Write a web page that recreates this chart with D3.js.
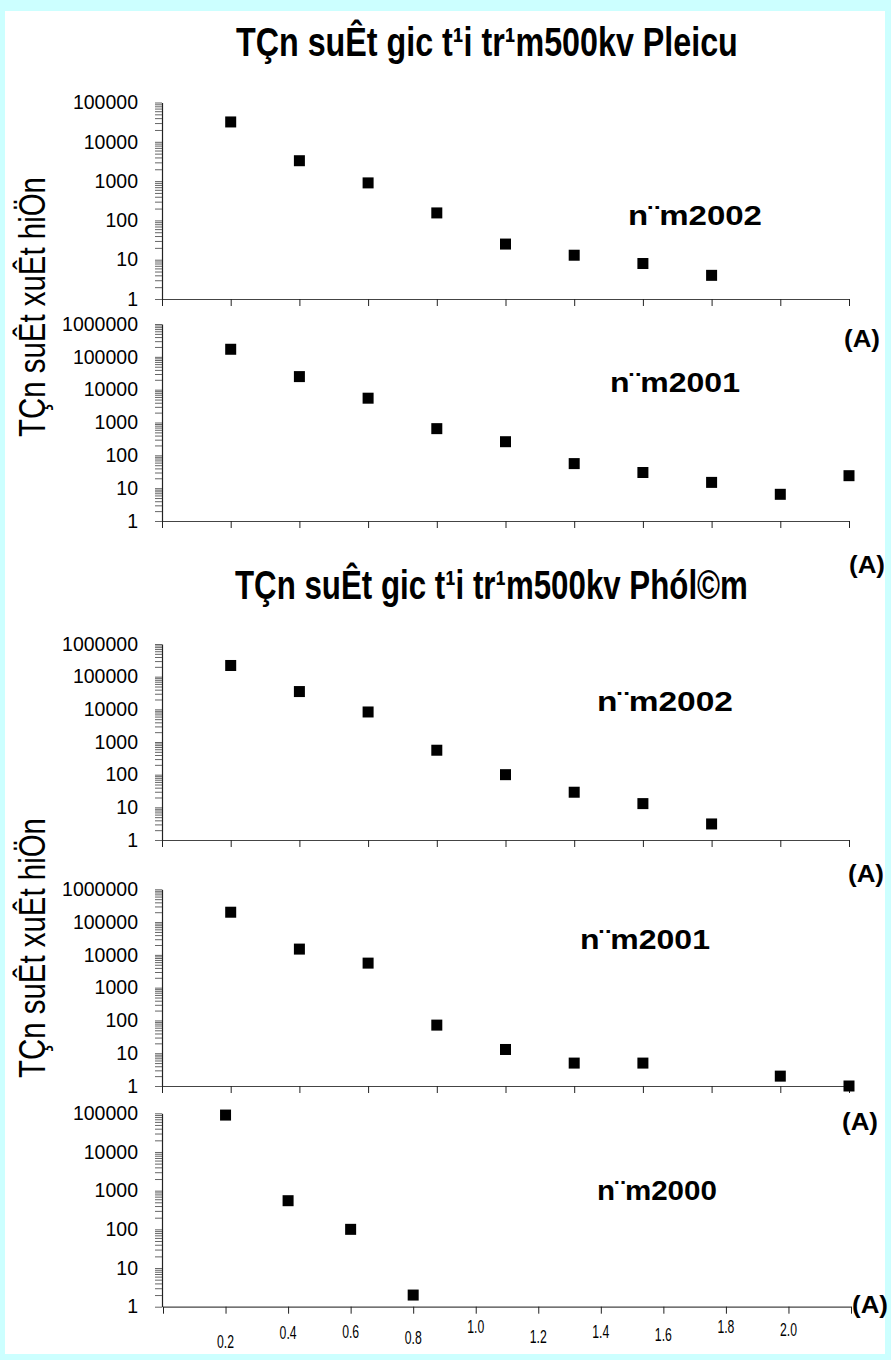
<!DOCTYPE html>
<html>
<head>
<meta charset="utf-8">
<script src="https://cdn.jsdelivr.net/npm/d3@7"></script>
<style>
  html, body { margin: 0; padding: 0; background: #ccffff; }
  svg { display: block; }
  text { font-family: "Liberation Sans", Arial, sans-serif; }
</style>
</head>
<body>
<svg id="chart" width="891" height="1360"></svg>
<script>
// Current levels (A) on the horizontal axis
const currents = [0.2, 0.4, 0.6, 0.8, 1.0, 1.2, 1.4, 1.6, 1.8, 2.0];

// Occurrence counts per current level
const pleicu2002 = [32000, 3300, 900, 155, 25, 13, 8, 4];
const pleicu2001 = [170000, 25000, 5500, 650, 260, 56, 30, 15, 6.5, 24];
const phulam2002 = [220000, 35000, 8300, 560, 100, 29, 13, 3.1];
const phulam2001 = [200000, 15000, 5600, 72, 13, 5, 5, null, 2, 1];
const phulam2000 = [90000, 550, 100, 2];

// Text
const titlePleicu = "TÇn suÊt gic t¹i tr¹m500kv Pleicu";
const titlePhulam = "TÇn suÊt gic t¹i tr¹m500kv Phól©m";
const yAxisTitle = "TÇn suÊt xuÊt hiÖn";
const unitLabel = "(A)";
const yearLabels = ["n¨m2002", "n¨m2001", "n¨m2002", "n¨m2001", "n¨m2000"];
const yTickLabels = ["1", "10", "100", "1000", "10000", "100000", "1000000"];
const xTickLabels = ["0.2", "0.4", "0.6", "0.8", "1.0", "1.2", "1.4", "1.6", "1.8", "2.0"];

const svg = d3.select("#chart");

// white sheet inside the cyan frame
svg.append("rect").attr("x", 5).attr("y", 11).attr("width", 880).attr("height", 1343).attr("fill", "#ffffff");

// draws a text condensed horizontally to a given width
function fitText(str, x, y, width, opts) {
  const o = Object.assign({ size: 20, weight: "normal", anchor: "start", rotate: 0 }, opts);
  const g = svg.append("g");
  const t = g.append("text")
    .attr("font-size", o.size)
    .attr("font-weight", o.weight)
    .attr("text-anchor", o.anchor)
    .attr("fill", "#000")
    .text(str);
  const w = t.node().getComputedTextLength();
  g.attr("transform", `translate(${x},${y}) rotate(${o.rotate}) scale(${width / w},1)`);
  return g;
}

// panel layout
const panels = [
  { values: pleicu2002, decades: 5, top: 102.5, bottom: 299, xMax: 2.0, x0: 162, x1: 849,
    year: yearLabels[0], yearX: 628, yearW: 134, yearY: 225, unitX: 862, unitY: 347 },
  { values: pleicu2001, decades: 6, top: 324, bottom: 521, xMax: 2.0, x0: 162, x1: 849,
    year: yearLabels[1], yearX: 610, yearW: 130, yearY: 392, unitX: 867, unitY: 573 },
  { values: phulam2002, decades: 6, top: 644, bottom: 840, xMax: 2.0, x0: 162, x1: 849,
    year: yearLabels[2], yearX: 597, yearW: 136, yearY: 711, unitX: 866, unitY: 882 },
  { values: phulam2001, decades: 6, top: 889.3, bottom: 1086, xMax: 2.0, x0: 162, x1: 849,
    year: yearLabels[3], yearX: 580, yearW: 130, yearY: 949, unitX: 860, unitY: 1130 },
  { values: phulam2000, decades: 5, top: 1113.3, bottom: 1306.7, xMax: 2.2, x0: 163, x1: 851,
    year: yearLabels[4], yearX: 597, yearW: 120, yearY: 1200, unitX: 870, unitY: 1313, labels: true }
];

// small vertical offsets of the bottom axis labels
const labelBaselines = [1348, 1339, 1338, 1344, 1333, 1343, 1338, 1341, 1333, 1336];

panels.forEach(p => {
  const y = d3.scaleLog().domain([1, Math.pow(10, p.decades)]).range([p.bottom, p.top]);
  const x = d3.scaleLinear().domain([0, p.xMax]).range([p.x0, p.x1]);

  // all log ticks 1..9 x 10^k
  const yTicks = y.ticks();
  const yAxis = d3.axisLeft(y)
    .tickValues(yTicks)
    .tickSize(7)
    .tickSizeOuter(0)
    .tickPadding(17)
    .tickFormat(d => {
      const k = Math.round(Math.log10(d));
      return Math.abs(Math.log10(d) - k) < 1e-9 ? yTickLabels[k] : "";
    });

  const gy = svg.append("g").attr("transform", `translate(${p.x0 - (p.labels ? 1 : 0)},0)`).call(yAxis);
  gy.select(".domain").attr("stroke", "#222").attr("stroke-width", 1.2);
  gy.selectAll(".tick line").attr("stroke", "#666").attr("stroke-width", 1);
  gy.selectAll(".tick text").attr("font-size", 19.5).attr("fill", "#000")
    .attr("font-family", "'Liberation Sans', Arial, sans-serif");

  const nTicks = Math.round(p.xMax / 0.2);
  const xTickVals = d3.range(nTicks + 1).map(i => +(i * 0.2).toFixed(1));
  const xAxis = d3.axisBottom(x)
    .tickValues(xTickVals)
    .tickSize(7)
    .tickSizeOuter(0)
    .tickFormat("");
  const gx = svg.append("g").attr("transform", `translate(0,${p.bottom})`).call(xAxis);
  gx.select(".domain").attr("stroke", "#444").attr("stroke-width", 1.2);
  gx.selectAll(".tick line").attr("stroke", "#222").attr("stroke-width", 1);

  if (p.labels) {
    xTickLabels.forEach((lab, i) => {
      fitText(lab, x(+lab), labelBaselines[i], 17, { size: 18, anchor: "middle" });
    });
  }

  // data markers
  const pts = p.values.map((v, i) => ({ c: currents[i], v })).filter(d => d.v != null);
  svg.append("g").selectAll("rect")
    .data(pts)
    .join("rect")
    .attr("x", d => x(d.c) - 5.5)
    .attr("y", d => y(d.v) - 5.5)
    .attr("width", 11)
    .attr("height", 11)
    .attr("fill", "#000");

  // year label
  fitText(p.year, p.yearX, p.yearY, p.yearW, { size: 28, weight: "bold" });

  // unit label
  fitText(unitLabel, p.unitX, p.unitY, 36, { size: 24, weight: "bold", anchor: "middle" });
});

// station titles
fitText(titlePleicu, 236, 56, 502, { size: 41, weight: "bold" });
fitText(titlePhulam, 235, 599, 513, { size: 41, weight: "bold" });

// rotated y-axis titles
[307, 948].forEach(cy => {
  fitText(yAxisTitle, 45, cy, 260, { size: 37, anchor: "middle", rotate: -90 });
});
</script>
</body>
</html>
